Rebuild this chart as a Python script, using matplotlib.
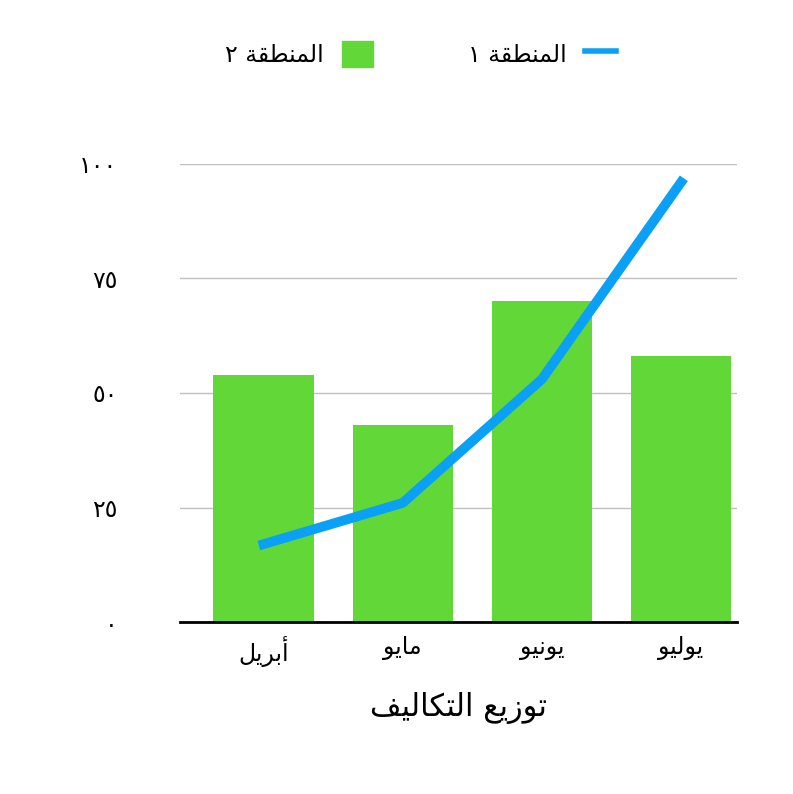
import matplotlib
matplotlib.use('Agg')
import matplotlib.pyplot as plt
from matplotlib.lines import Line2D
from matplotlib.patches import Patch

plt.rcParams['font.family'] = ['DejaVu Sans']

# Arabic text in visual (shaped, right-to-left) presentation forms
months = ["\uFEDE\uFEF3\uFEAE\uFE91\uFE83",      # أبريل
          "\uFEEE\uFEF3\uFE8E\uFEE3",            # مايو
          "\uFEEE\uFEF4\uFEE7\uFEEE\uFEF3",      # يونيو
          "\uFEEE\uFEF4\uFEDF\uFEEE\uFEF3"]      # يوليو
region = "\uFE94\uFED8\uFEC4\uFEE8\uFEE4\uFEDF\uFE8D"  # المنطقة
series1_name = "\u0661 " + region
series2_name = "\u0662 " + region
xlabel = "\uFED2\uFEF4\uFEDF\uFE8E\uFEDC\uFE98\uFEDF\uFE8D \uFECA\uFEF3\uFEAF\uFEEE\uFE97"  # توزيع التكاليف

bar_values = [54, 43, 70, 58]
line_values = [17, 26, 53, 96]
yticks = [0, 25, 50, 75, 100]
ytick_labels = ["\u0660", "\u0662\u0665", "\u0665\u0660", "\u0667\u0665", "\u0661\u0660\u0660"]

fig = plt.figure(figsize=(7.93, 7.94), dpi=100)
ax = fig.add_axes([0.227, 0.2166, 0.702, 0.5769])

x = range(len(months))
ax.bar(x, bar_values, width=0.72, color='#62d838', zorder=2)
ax.plot(x, line_values, color='#0aa0f5', linewidth=7, zorder=3)

ax.set_ylim(0, 100)
ax.set_xlim(-0.6, 3.4)
ax.set_yticks(yticks)
ax.set_yticklabels(ytick_labels, fontsize=17)
ax.set_xticks(list(x))
ax.set_xticklabels(months, fontsize=17)
ax.tick_params(length=0)
ax.tick_params(axis='y', pad=45)
ax.tick_params(axis='x', pad=10)
ax.grid(axis='y', color='#c0c0c0', linewidth=1, zorder=0)
for s in ['top', 'right', 'left']:
    ax.spines[s].set_visible(False)
ax.spines['bottom'].set_linewidth(2)
ax.set_xlabel(xlabel, fontsize=22, labelpad=18)

handles = [Patch(color='#62d838'), Line2D([0], [0], color='#0aa0f5', linewidth=4)]
fig.legend(handles, [series2_name, series1_name], loc='upper center',
           bbox_to_anchor=(0.53, 0.975), ncol=2, frameon=False, fontsize=17,
           columnspacing=4, handlelength=1.3, handleheight=1.3,
           markerfirst=False)

fig.savefig('out.png', dpi=100)
